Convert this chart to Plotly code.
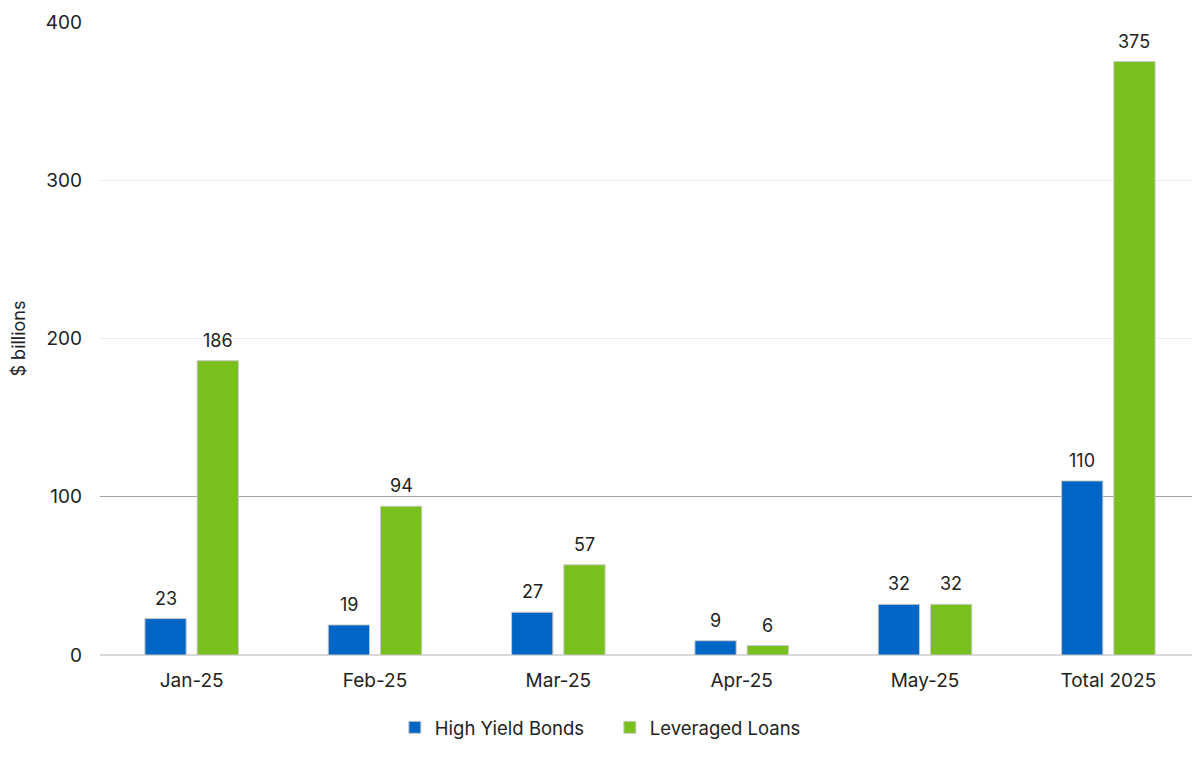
import plotly.graph_objects as go

categories = ["Jan-25", "Feb-25", "Mar-25", "Apr-25", "May-25", "Total 2025"]
high_yield = [23, 19, 27, 9, 32, 110]
leveraged = [186, 94, 57, 6, 32, 375]
y_ticks = [0, 100, 200, 300, 400]
emphasis_ticks = [100]

FONT = "Inter, Lato, 'Noto Sans', sans-serif"
TXT = "#222222"

series = [
    ("High Yield Bonds", high_yield, "#0066C6", -26),
    ("Leveraged Loans", leveraged, "#7AC01C", 26),
]

fig = go.Figure()
annotations = []
for name, vals, color, xs in series:
    fig.add_trace(go.Bar(
        x=categories, y=vals, name=name,
        marker=dict(color=color, line=dict(color="#c8c8c8", width=1)),
    ))
    for c, v in zip(categories, vals):
        annotations.append(dict(
            x=c, y=v, xref="x", yref="y", text=str(v), showarrow=False,
            xshift=xs, yshift=8, yanchor="bottom",
            font=dict(size=18, color=TXT, family=FONT),
        ))

fig.update_layout(
    width=1200, height=766,
    margin=dict(l=92, r=8, t=14, b=119),
    paper_bgcolor="white", plot_bgcolor="white",
    barmode="group", bargap=0.43, bargroupgap=0.21,
    font=dict(family=FONT, size=19, color=TXT),
    legend=dict(orientation="h", x=0.4635, xanchor="center", y=-0.115, yanchor="middle",
                font=dict(size=18.5, color=TXT), entrywidth=170, entrywidthmode="pixels",
                traceorder="normal"),
    xaxis=dict(showgrid=False, showline=False, ticks="", tickfont=dict(size=19),
               zeroline=False, automargin=False, ticklabelstandoff=12),
    yaxis=dict(range=[0, 400], tickvals=y_ticks, showgrid=True,
               gridcolor="rgba(0,0,0,0.07)", gridwidth=1,
               minor=dict(tickvals=emphasis_ticks, showgrid=True, gridcolor="#b0b0b0",
                          gridwidth=1, ticks=""),
               zeroline=True, zerolinecolor="#d9d9d9", zerolinewidth=2,
               ticks="", tickfont=dict(size=19), ticklabelstandoff=17, automargin=False,
               title=dict(text="$ billions", font=dict(size=18), standoff=23)),
    annotations=annotations,
)

fig.write_html("out.html")
